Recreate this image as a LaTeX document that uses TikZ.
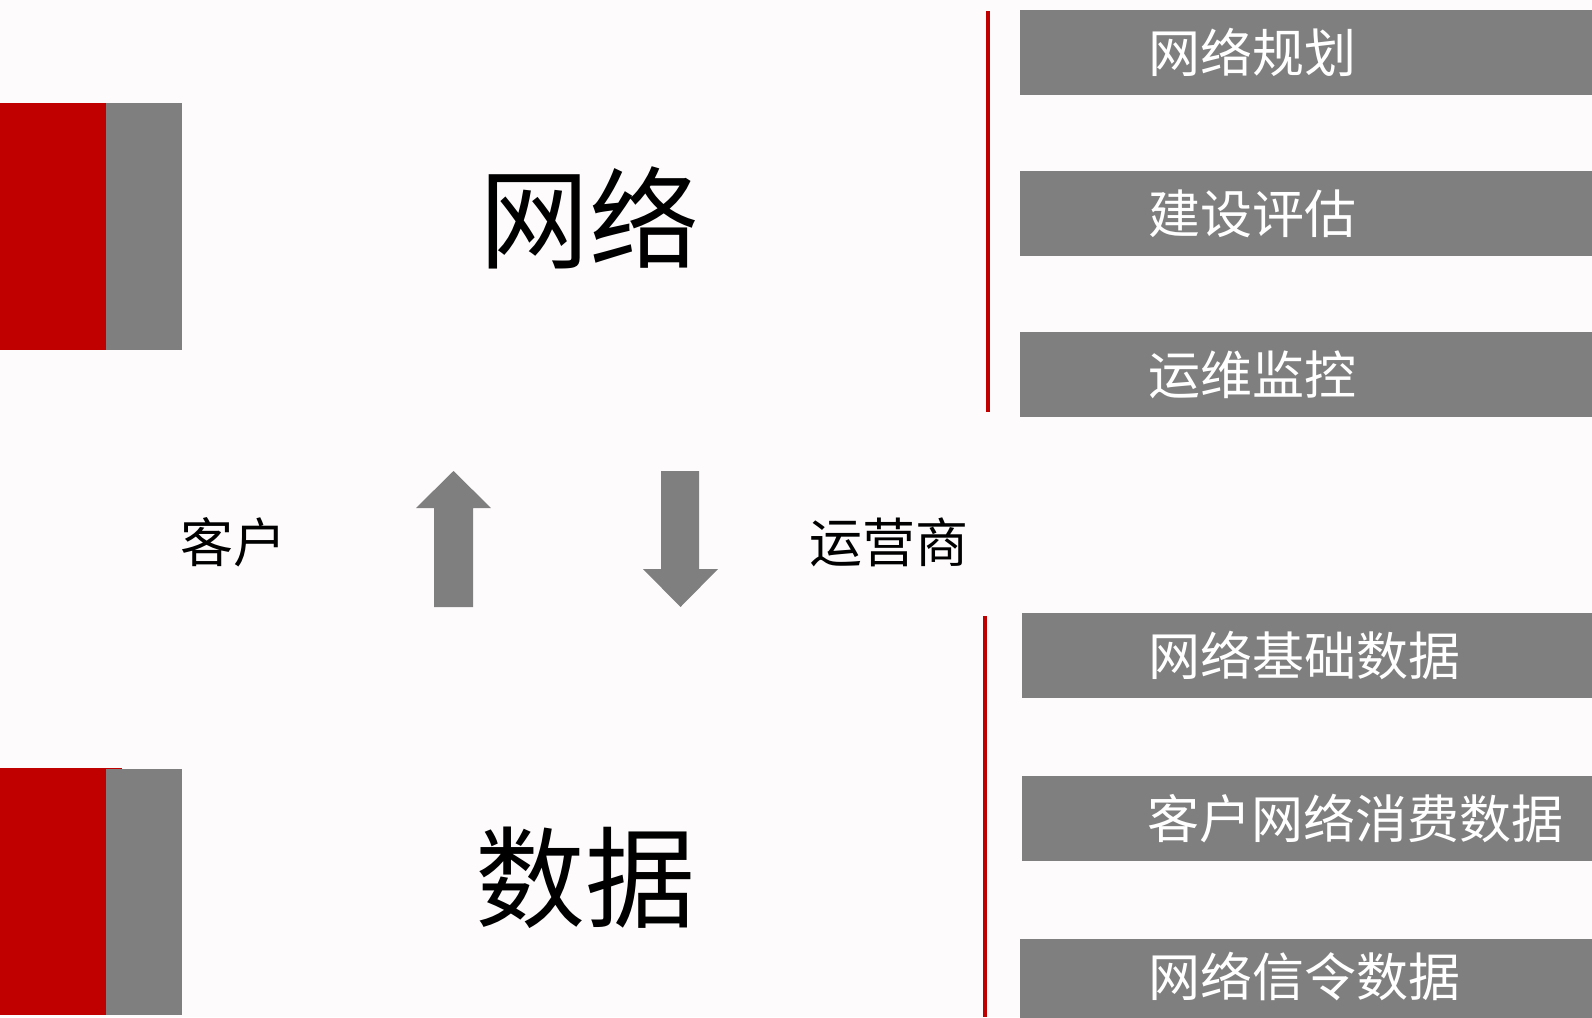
\documentclass[tikz,border=0pt]{standalone}
\usepackage{fontspec}
\newfontfamily\cjk{Noto Sans CJK SC}
\definecolor{bg}{HTML}{FDFBFC}
\definecolor{myred}{HTML}{C00000}
\definecolor{mygray}{HTML}{7F7F7F}
\begin{document}
\begin{tikzpicture}[x=1pt,y=-1pt,
  graybox/.style={fill=mygray,draw=none,anchor=north west,inner sep=0pt,minimum width=580pt,minimum height=85pt},
  boxlabel/.style={anchor=west,inner sep=0pt,text=white,font=\cjk\fontsize{52}{52}\selectfont},
  bigtext/.style={inner sep=0pt,font=\cjk\fontsize{110}{110}\selectfont},
  midtext/.style={inner sep=0pt,font=\cjk\fontsize{53}{53}\selectfont},
  redline/.style={draw=myred,line width=4pt}]
\fill[bg] (0,0) rectangle (1592,1017);
\useasboundingbox (0,0) rectangle (1592,1017);
% left blocks
\fill[myred] (0,103) rectangle (106,350);
\fill[mygray] (106,103) rectangle (182,350);
\fill[myred] (0,768) rectangle (122,770);
\fill[myred] (0,768) rectangle (106,1015);
\fill[mygray] (106,769) rectangle (182,1015);
% big texts
\node[bigtext] (net) at (589,218) {网络};
\node[bigtext] (data) at (585,878) {数据};
\node[midtext] (cust) at (233,542) {客户};
\node[midtext] (op) at (889,542) {运营商};
% arrows
\fill[mygray] (434,607) -- (434,508) -- (416,508) -- (453.5,471) -- (491,508) -- (473,508) -- (473,607) -- cycle;
\fill[mygray] (661,471) -- (661,569) -- (643,569) -- (680.5,607) -- (718,569) -- (699,569) -- (699,471) -- cycle;
% right top
\draw[redline] (988,11) -- (988,412);
\node[graybox] (b1) at (1020,10) {};
\node[graybox] (b2) at (1020,171) {};
\node[graybox] (b3) at (1020,332) {};
\node[boxlabel] (l1) at ([xshift=128pt]b1.west) {网络规划};
\node[boxlabel] (l2) at ([xshift=128pt]b2.west) {建设评估};
\node[boxlabel] (l3) at ([xshift=128pt]b3.west) {运维监控};
% right bottom
\draw[redline] (985,616) -- (985,1017);
\node[graybox] (b4) at (1022,613) {};
\node[graybox] (b5) at (1022,776) {};
\node[graybox] (b6) at (1020,939) {};
\node[boxlabel] (l4) at ([xshift=126pt]b4.west) {网络基础数据};
\node[boxlabel] (l5) at ([xshift=125pt]b5.west) {客户网络消费数据};
\node[boxlabel] (l6) at ([xshift=128pt,yshift=5pt]b6.west) {网络信令数据};
\end{tikzpicture}
\end{document}
